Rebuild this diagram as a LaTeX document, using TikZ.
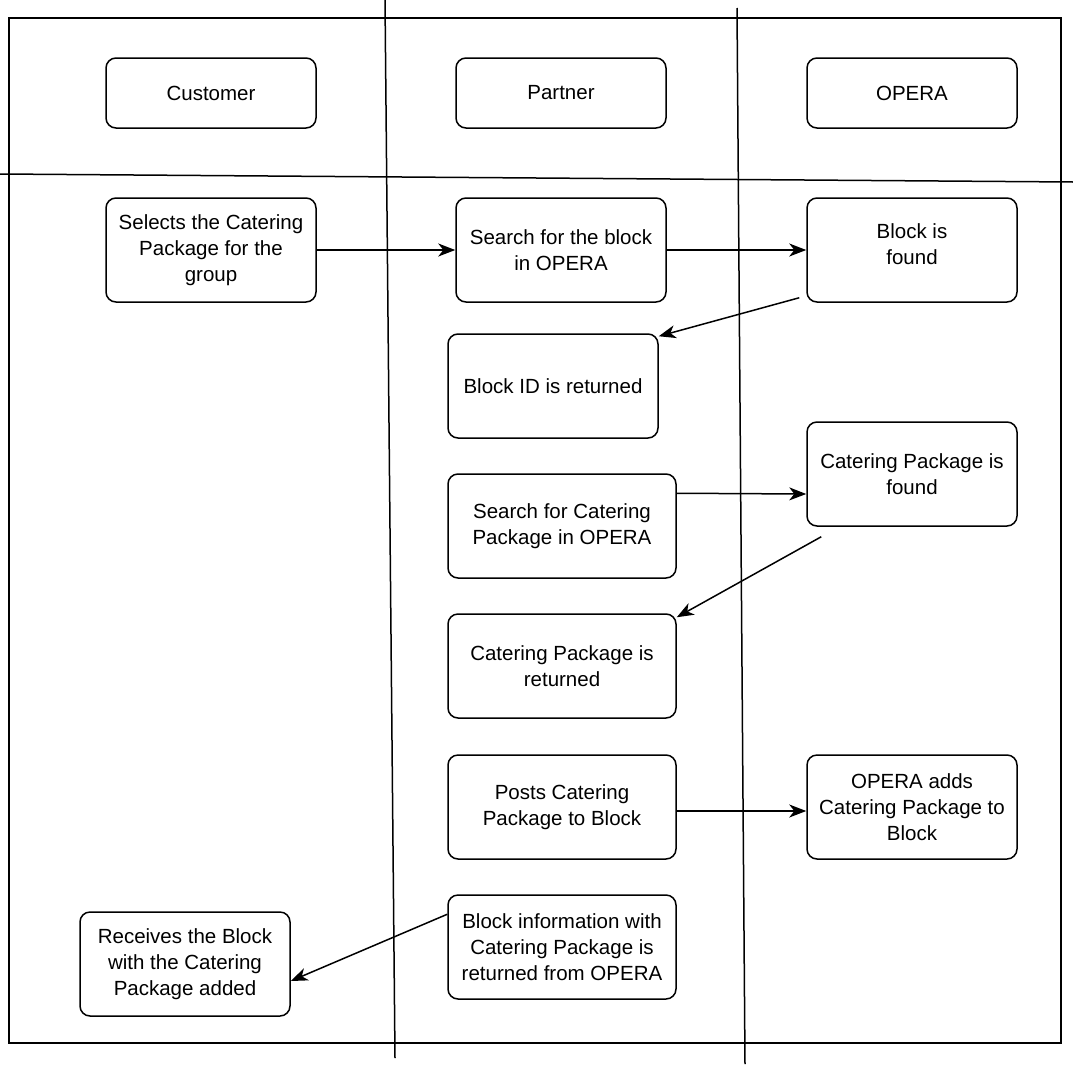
\documentclass[tikz,border=0pt]{standalone}
\usepackage{fontspec}
\setmainfont{Liberation Sans}
\usetikzlibrary{arrows.meta}
\tikzset{
	box/.style 2 args={draw,rounded corners=10pt,line width=1.5pt,minimum width=#1,minimum height=#2,align=center,inner sep=0pt,font=\fontsize{20.5}{26}\selectfont},
	flow/.style={line width=1.5pt,-{Stealth[length=17pt,width=13pt,inset=5pt]}}
}

\begin{document}
\begin{tikzpicture}[x=1pt,y=-1pt]
	\useasboundingbox (0,0) rectangle (1073,1071);

	% frame and lanes
	\draw[line width=1.5pt] (9,18) rectangle (1061,1043);
	\draw[line width=1.5pt] (0,174) -- (1073,182);
	\draw[line width=1.5pt] (385,0) -- (395,1058);
	\draw[line width=1.5pt] (737,8) -- (745,1064);

	\node [box={210pt}{70pt}] (customer) at (211,93) {Customer};
	\node [box={210pt}{70pt}] (partner) at (561,93) {Partner};
	\node [box={210pt}{70pt}] (opera) at (912,93) {OPERA};

	\node [box={210pt}{104pt}] (select) at (211,250) {Selects the Catering\\Package for the\\group};
	\node [box={210pt}{104pt}] (search) at (561,250) {Search for the block\\in OPERA};
	\node [box={210pt}{104pt}] (found) at (912,250) {Block is\\found\\[-14pt]};
	\node [box={210pt}{104pt}] (blockid) at (553,386) {Block ID is returned};
	\node [box={210pt}{104pt}] (cfound) at (912,474) {Catering Package is\\found};
	\node [box={228pt}{104pt}] (csearch) at (562,526) {Search for Catering\\Package in OPERA};
	\node [box={228pt}{104pt}] (creturn) at (562,666) {Catering Package is\\returned};
	\node [box={228pt}{104pt}] (post) at (562,807) {Posts Catering\\Package to Block};
	\node [box={210pt}{104pt}] (add) at (912,807) {OPERA adds\\Catering Package to\\Block};
	\node [box={228pt}{104pt}] (info) at (562,947) {Block information with\\Catering Package is\\returned from OPERA};
	\node [box={210pt}{104pt}] (receive) at (185,964) {Receives the Block\\with the Catering\\Package added};

	\draw[flow] (select) -- (search);
	\draw[flow] (search) -- (found);
	\draw[flow] ([shift={(-7,-5)}]found.south west) -- ([yshift=-3pt]blockid.north east);
	\draw[flow] ([yshift=-20pt]csearch.north east) -- ([yshift=-20pt]cfound.west);
	\draw[flow] ([shift={(15,10)}]cfound.south west) -- ([yshift=-4pt]creturn.north east);
	\draw[flow] ([yshift=-4pt]post.east) -- ([yshift=-4pt]add.west);
	\draw[flow] ([yshift=-20pt]info.north west) -- ([yshift=-17pt]receive.east);
\end{tikzpicture}
\end{document}
